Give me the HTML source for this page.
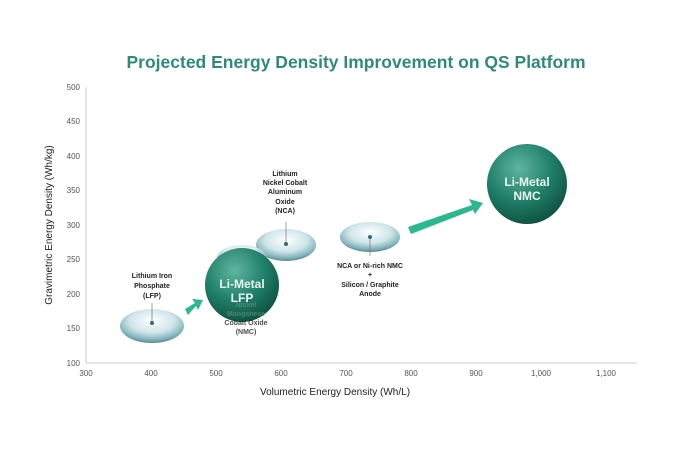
<!DOCTYPE html>
<html><head><style>
body{margin:0;background:#fff;}
svg{display:block;font-family:"Liberation Sans",sans-serif;}
</style></head><body>
<svg width="694" height="463" viewBox="0 0 694 463">
<defs>
<radialGradient id="sph" cx="0.4" cy="0.3" r="0.75">
<stop offset="0" stop-color="#5fb4a0"/><stop offset="0.55" stop-color="#1f7f68"/><stop offset="1" stop-color="#0d4d3d"/>
</radialGradient>
<radialGradient id="ell" cx="0.5" cy="0.35" r="0.7">
<stop offset="0" stop-color="#ffffff"/><stop offset="0.5" stop-color="#cfe6ea"/><stop offset="0.8" stop-color="#7fb1ba"/><stop offset="1" stop-color="#3d6f79"/>
</radialGradient>
</defs>
<text x="356" y="68" text-anchor="middle" font-size="17.5" font-weight="bold" fill="#2e8b7a">Projected Energy Density Improvement on QS Platform</text>
<g stroke="#ccc" stroke-width="1">
<line x1="86" y1="87" x2="86" y2="363"/>
<line x1="86" y1="363" x2="637" y2="363"/>
</g>
<g font-size="8" fill="#555" text-anchor="end">
<text x="80" y="90">500</text><text x="80" y="124">450</text><text x="80" y="159">400</text><text x="80" y="193">350</text><text x="80" y="228">300</text><text x="80" y="262">250</text><text x="80" y="297">200</text><text x="80" y="331">150</text><text x="80" y="366">100</text>
</g>
<g font-size="8" fill="#555" text-anchor="middle">
<text x="86" y="376">300</text><text x="151" y="376">400</text><text x="216" y="376">500</text><text x="281" y="376">600</text><text x="346" y="376">700</text><text x="411" y="376">800</text><text x="476" y="376">900</text><text x="541" y="376">1,000</text><text x="606" y="376">1,100</text>
</g>
<text x="335" y="395" text-anchor="middle" font-size="10" fill="#222">Volumetric Energy Density (Wh/L)</text>
<text transform="translate(52,225) rotate(-90)" text-anchor="middle" font-size="10" fill="#222">Gravimetric Energy Density (Wh/kg)</text>
<ellipse cx="152" cy="326" rx="32" ry="17" fill="url(#ell)"/>
<ellipse cx="286" cy="245" rx="30" ry="16" fill="url(#ell)"/>
<ellipse cx="370" cy="237" rx="30" ry="15" fill="url(#ell)"/>
<ellipse cx="242" cy="258" rx="25" ry="13" fill="url(#ell)" opacity="0.8"/>
<g stroke="#777" stroke-width="0.7">
<line x1="152" y1="303" x2="152" y2="323"/><line x1="286" y1="222" x2="286" y2="244"/><line x1="370" y1="237" x2="370" y2="256"/>
</g>
<g fill="#2a6f80"><circle cx="152" cy="323" r="2"/><circle cx="286" cy="244" r="2"/><circle cx="370" cy="237" r="2"/></g>
<g font-size="7" font-weight="bold" fill="#222" text-anchor="middle">
<text x="152" y="278">Lithium Iron</text><text x="152" y="288">Phosphate</text><text x="152" y="298">(LFP)</text>
<text x="285" y="176">Lithium</text><text x="285" y="185">Nickel Cobalt</text><text x="285" y="194">Aluminum</text><text x="285" y="204">Oxide</text><text x="285" y="213">(NCA)</text>
<text x="370" y="268">NCA or Ni-rich NMC</text><text x="370" y="277">+</text><text x="370" y="287">Silicon / Graphite</text><text x="370" y="296">Anode</text>
</g>
<circle cx="242" cy="285" r="37" fill="url(#sph)"/>
<g font-size="7" font-weight="bold" fill="#5b8a80" text-anchor="middle" opacity="0.8">
<text x="246" y="307">Nickel</text><text x="246" y="316">Manganese</text><text x="246" y="325" fill="#222">Cobalt Oxide</text><text x="246" y="334" fill="#222">(NMC)</text>
</g>
<text x="242" y="288" text-anchor="middle" font-size="12" font-weight="bold" fill="#e8f5f0">Li-Metal</text>
<text x="242" y="302" text-anchor="middle" font-size="12" font-weight="bold" fill="#e8f5f0">LFP</text>
<circle cx="527" cy="184" r="40" fill="url(#sph)"/>
<text x="527" y="186" text-anchor="middle" font-size="12" font-weight="bold" fill="#e8f5f0">Li-Metal</text>
<text x="527" y="200" text-anchor="middle" font-size="12" font-weight="bold" fill="#e8f5f0">NMC</text>
<g fill="#2bb88f">
<polygon points="185,309 195,303 192,299 203,300 198,310 196,306 188,315"/>
<polygon points="408,227 472,205 469,199 483,203 475,214 473,210 411,234"/>
</g>
</svg>
</body></html>
